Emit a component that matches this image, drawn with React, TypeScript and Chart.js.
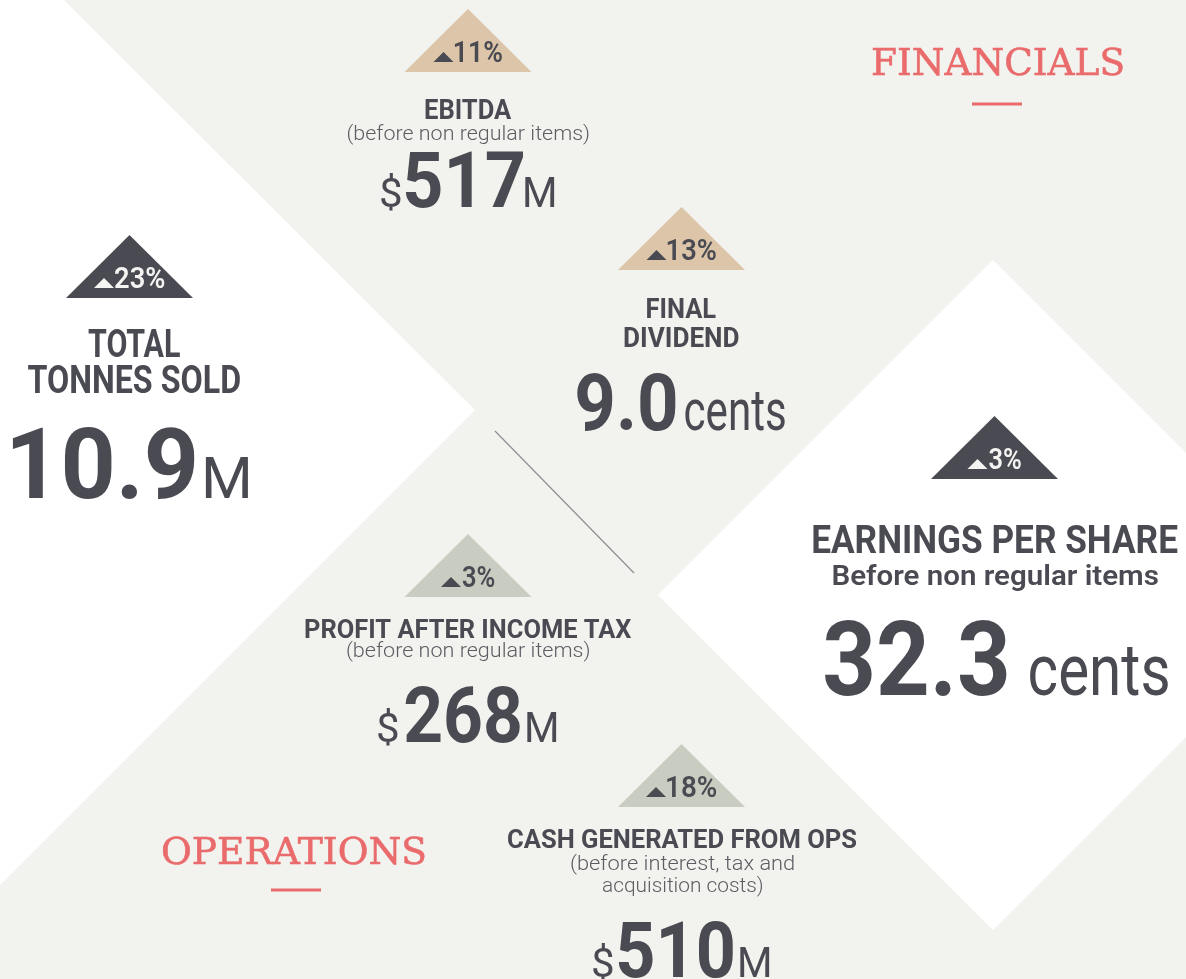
import React, { useEffect, useRef } from "react";
import { Chart, registerables } from "chart.js";

Chart.register(...registerables);

// ---------------- DATA ----------------
const kpiTitles: string[][] = [
  ["EBITDA"],
  ["FINAL", "DIVIDEND"],
  ["TOTAL", "TONNES SOLD"],
  ["EARNINGS PER SHARE"],
  ["PROFIT AFTER INCOME TAX"],
  ["CASH GENERATED FROM OPS"],
];
const kpiSubtitles: string[][] = [
  ["(before non regular items)"],
  [],
  [],
  ["Before non regular items"],
  ["(before non regular items)"],
  ["(before interest, tax and", "acquisition costs)"],
];
const kpiValues = [517, 9.0, 10.9, 32.3, 268, 510];
const kpiDecimals = [0, 1, 1, 1, 0, 0];
const kpiPrefixes = ["$", "", "", "", "$", "$"];
const kpiUnits = ["M", "cents", "M", "cents", "M", "M"];
const kpiChanges = [11, 13, 23, 3, 3, 18];
const sectionLabels = ["FINANCIALS", "OPERATIONS"];

// ---------------- LAYOUT / STYLE ----------------
const W = 1186;
const H = 979;
const BG = "#f2f2ee";
const DARK = "#4a4a52";
const SUBTLE = "#5c5c63";
const CORAL = "#ea6b6c";
const badgeFill = ["#dcc5a8", "#dcc5a8", "#4a4a52", "#4a4a52", "#c9cdc1", "#c9cdc1"];
const badgeInk = [DARK, DARK, "#f4f4f2", "#f4f4f2", DARK, DARK];
const badgeX = [468, 681.5, 129.5, 994.5, 468, 681.5];
const badgeBaseY = [72, 270, 298, 479, 597, 807];
const badgeHalfW = 63.5;
const badgeH = 63;
const badgeTextInk = [48, 49, 50, 33, 33, 50];

const titleCx = [468.5, 681.5, 134, 995.5, 468.5, 682.5];
const titleBase = [[119], [318, 347], [357, 393], [553], [638], [848]];
const titleInk = [[87], [70, 115], [92, 213], [365], [327], [349]];
const titleSize = [27, 27, 38, 39, 26, 26];

const subBase = [[140], [], [], [585], [657], [870, 892]];
const subInk = [[242], [], [], [326], [243], [223, 161]];
const subSize = [20, 20, 20, 28, 20, 20];
const subWeight = [300, 300, 300, 600, 300, 300];

const valueLeft = [405, 577, 13, 825, 405, 618];
const valueInk = [118, 99, 182, 182, 115, 115];
const valueBase = [207, 430, 498, 695, 742, 977];
const valueSize = [77, 80, 98, 103, 77, 77];
const prefixLeft = [381, 0, 0, 0, 378, 593];
const prefixInk = [20, 0, 0, 0, 20, 20];
const unitLeft = [525, 685, 205, 1030, 527, 740];
const unitInk = [30, 100, 43, 138, 30, 30];
const unitSize = [42, 57, 58, 72, 42, 42];

const sectionCx = [998, 294];
const sectionBase = [75, 864];
const sectionInk = [250, 262];
const sectionRule = [[972, 1022, 104], [271, 321, 890]];

const whiteLeft = [[0, 0], [64, 0], [475, 410], [0, 885]];
const whiteDiamond = [[993, 260], [1328, 595], [993, 930], [658, 595]];
const dividerLine = [[495, 431], [634, 573]];

const SANS = "Roboto, 'Noto Sans', sans-serif";
const SERIF = "'DejaVu Serif', 'Noto Serif', 'Liberation Serif', serif";

function inkText(
  ctx: CanvasRenderingContext2D,
  text: string,
  font: string,
  color: string,
  left: number,
  base: number,
  inkW: number,
  strokeW = 0
) {
  ctx.save();
  ctx.font = font;
  ctx.fillStyle = color;
  ctx.textAlign = "left";
  ctx.textBaseline = "alphabetic";
  const m = ctx.measureText(text);
  const l = m.actualBoundingBoxLeft;
  const r = m.actualBoundingBoxRight;
  const w = l + r;
  const sx = inkW > 0 && w > 0 ? inkW / w : 1;
  ctx.translate(left, base);
  ctx.scale(sx, 1);
  ctx.fillText(text, l, 0);
  if (strokeW > 0) {
    ctx.strokeStyle = color;
    ctx.lineWidth = strokeW;
    ctx.lineJoin = "miter";
    ctx.strokeText(text, l, 0);
  }
  ctx.restore();
}

const infographicPlugin = {
  id: "infographic",
  beforeDatasetsDraw(chart: any) {
    const ctx: CanvasRenderingContext2D = chart.ctx;
    const xs = chart.scales.x;
    const ys = chart.scales.y;
    const px = (v: number) => xs.getPixelForValue(v);
    const py = (v: number) => ys.getPixelForValue(v);
    ctx.save();
    ctx.fillStyle = BG;
    ctx.fillRect(px(0), py(0), px(W) - px(0), py(H) - py(0));
    ctx.fillStyle = "#ffffff";
    [whiteLeft, whiteDiamond].forEach((poly) => {
      ctx.beginPath();
      poly.forEach(([x, y], i) => (i === 0 ? ctx.moveTo(px(x), py(y)) : ctx.lineTo(px(x), py(y))));
      ctx.closePath();
      ctx.fill();
    });
    ctx.strokeStyle = "#8e8e94";
    ctx.lineWidth = 1.2;
    ctx.beginPath();
    ctx.moveTo(px(dividerLine[0][0]), py(dividerLine[0][1]));
    ctx.lineTo(px(dividerLine[1][0]), py(dividerLine[1][1]));
    ctx.stroke();
    ctx.restore();
  },
  afterDatasetsDraw(chart: any) {
    const ctx: CanvasRenderingContext2D = chart.ctx;
    const xs = chart.scales.x;
    const ys = chart.scales.y;
    const px = (v: number) => xs.getPixelForValue(v);
    const py = (v: number) => ys.getPixelForValue(v);
    const meta = chart.getDatasetMeta(0);

    // section headings
    sectionLabels.forEach((label, i) => {
      const w = sectionInk[i];
      inkText(ctx, label, `400 38px ${SERIF}`, CORAL, px(sectionCx[i] - w / 2), py(sectionBase[i]), w, 0.6);
      const [x0, x1, y] = sectionRule[i];
      ctx.save();
      ctx.strokeStyle = CORAL;
      ctx.lineWidth = 3;
      ctx.beginPath();
      ctx.moveTo(px(x0), py(y));
      ctx.lineTo(px(x1), py(y));
      ctx.stroke();
      ctx.restore();
    });

    kpiValues.forEach((val, i) => {
      const pt = meta.data[i];
      const bx = pt.x;
      const by = pt.y;
      // badge triangle
      ctx.save();
      ctx.fillStyle = badgeFill[i];
      ctx.beginPath();
      ctx.moveTo(bx - badgeHalfW, by);
      ctx.lineTo(bx, by - badgeH);
      ctx.lineTo(bx + badgeHalfW, by);
      ctx.closePath();
      ctx.fill();
      ctx.restore();
      // badge text: small up-arrow triangle + percentage
      const tInk = badgeTextInk[i];
      const groupW = 20 + 1 + tInk;
      const gl = bx - groupW / 2;
      const tb = by - 10;
      ctx.save();
      ctx.fillStyle = badgeInk[i];
      ctx.beginPath();
      ctx.moveTo(gl, tb);
      ctx.lineTo(gl + 10, tb - 10);
      ctx.lineTo(gl + 20, tb);
      ctx.closePath();
      ctx.fill();
      ctx.restore();
      inkText(ctx, `${kpiChanges[i]}%`, `600 29px ${SANS}`, badgeInk[i], gl + 21, tb, tInk);

      // titles
      kpiTitles[i].forEach((line, j) => {
        const w = titleInk[i][j];
        inkText(ctx, line, `700 ${titleSize[i]}px ${SANS}`, DARK, px(titleCx[i] - w / 2), py(titleBase[i][j]), w);
      });
      // subtitles
      kpiSubtitles[i].forEach((line, j) => {
        const w = subInk[i][j];
        inkText(
          ctx,
          line,
          `${subWeight[i]} ${subSize[i]}px ${SANS}`,
          subWeight[i] > 400 ? DARK : SUBTLE,
          px(titleCx[i] - w / 2),
          py(subBase[i][j]),
          w
        );
      });
      // value
      const vb = py(valueBase[i]);
      inkText(ctx, val.toFixed(kpiDecimals[i]), `700 ${valueSize[i]}px ${SANS}`, DARK, px(valueLeft[i]), vb, valueInk[i]);
      if (kpiPrefixes[i]) {
        inkText(ctx, kpiPrefixes[i], `400 40px ${SANS}`, DARK, px(prefixLeft[i]), vb, prefixInk[i]);
      }
      inkText(ctx, kpiUnits[i], `400 ${unitSize[i]}px ${SANS}`, DARK, px(unitLeft[i]), vb, unitInk[i]);
    });
  },
};

export default function App() {
  const ref = useRef<HTMLCanvasElement | null>(null);
  useEffect(() => {
    document.body.style.margin = "0";
    const canvas = ref.current;
    if (!canvas) return;
    const chart = new Chart(canvas, {
      type: "scatter",
      data: {
        datasets: [
          {
            label: "badges",
            data: kpiValues.map((_, i) => ({ x: badgeX[i], y: badgeBaseY[i] })),
            pointRadius: 0,
            pointHoverRadius: 0,
            backgroundColor: "transparent",
            borderColor: "transparent",
          },
        ],
      },
      options: {
        animation: false,
        responsive: false,
        devicePixelRatio: 1,
        events: [],
        layout: { padding: 0 },
        plugins: { legend: { display: false }, tooltip: { enabled: false }, title: { display: false } },
        scales: {
          x: { type: "linear", min: 0, max: W, display: false },
          y: { type: "linear", min: 0, max: H, reverse: true, display: false },
        },
      },
      plugins: [infographicPlugin],
    });
    return () => chart.destroy();
  }, []);
  return (
    <div style={{ width: W, height: H }}>
      <canvas ref={ref} width={W} height={H} style={{ display: "block", width: W, height: H }} />
    </div>
  );
}
